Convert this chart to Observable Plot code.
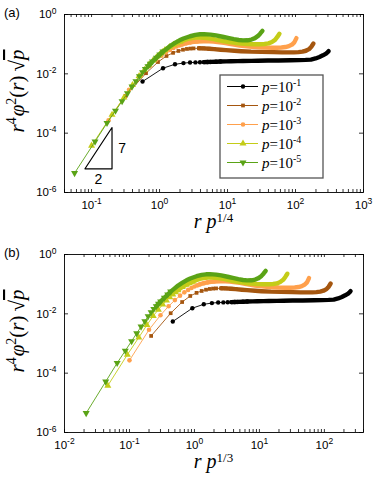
<!DOCTYPE html>
<html><head><meta charset="utf-8">
<script src="https://cdn.jsdelivr.net/npm/d3@7"></script>
<script src="https://cdn.jsdelivr.net/npm/@observablehq/plot@0.6"></script>
<style>
body{margin:0;background:#fff;}
#chart{width:374px;height:480px;}
#chart svg{display:block;}
</style></head><body><div id="chart"></div>
<script>
// ---- data ----
const pValues = [1e-1, 1e-2, 1e-3, 1e-4, 1e-5];
const pExponents = ["-1", "-2", "-3", "-4", "-5"];
const colors = ["#000000", "#a5560f", "#ffa04c", "#c4cc18", "#5aa316"];

const r0 = [1,2,3,4,5,6,7,8,9,10,12,14,17,20,25,30,40,50,70,100,150,200,250,300,350,400,450,500,530,545];
const y0 = [0.0055,0.0155,0.021,0.023,0.024,0.0243,0.0246,0.0248,0.025,0.0252,0.0256,0.026,0.0262,0.0265,0.0268,0.027,0.0273,0.0276,0.028,0.0283,0.0287,0.029,0.0295,0.0302,0.033,0.037,0.042,0.048,0.054,0.058];

const r1 = [1,2,3,4,5,6,7,8,9,10,12,14,17,20,25,30,40,50,70,100,150,200,250,300,350,400,450,500,540,580];
const y1 = [0.0018,0.0105,0.025,0.04,0.051,0.059,0.065,0.069,0.071,0.072,0.0725,0.072,0.07,0.068,0.065,0.063,0.06,0.058,0.056,0.055,0.054,0.053,0.053,0.053,0.054,0.056,0.06,0.068,0.082,0.105];

const r2 = [1,2,3,4,5,6,7,8,9,10,11,12,14,16,18,20,25,30,35,40,50,60,70,85,100,130,160,200,250,300,350,400,450,500,540,580];
const y2 = [0.00027,0.0029,0.009,0.018,0.029,0.041,0.053,0.064,0.074,0.083,0.091,0.098,0.108,0.115,0.12,0.123,0.126,0.125,0.122,0.118,0.11,0.102,0.096,0.09,0.086,0.081,0.079,0.077,0.076,0.076,0.077,0.08,0.086,0.097,0.115,0.16];

const r3 = [1,2,3,4,5,6,7,8,9,10,11,12,14,16,18,20,23,26,30,35,40,50,60,70,85,100,130,160,200,250,300,350,400,450,500,540,580];
const y3 = [0.000038,0.00042,0.0016,0.0042,0.0085,0.0138,0.0205,0.028,0.036,0.045,0.054,0.063,0.08,0.095,0.108,0.12,0.137,0.15,0.16,0.166,0.167,0.16,0.15,0.14,0.128,0.12,0.11,0.105,0.101,0.099,0.099,0.101,0.106,0.118,0.14,0.175,0.225];

const r4 = [1,2,3,4,5,6,7,8,9,10,11,12,13,14,16,18,20,23,26,30,35,40,50,60,70,80,100,120,150,180,220,260,300,350,400,450,500,540,580];
const y4 = [4.5e-6,5.2e-5,2.2e-4,5.7e-4,1.2e-3,2.2e-3,3.7e-3,5.6e-3,8.3e-3,0.0113,0.0145,0.018,0.022,0.026,0.035,0.045,0.056,0.072,0.09,0.11,0.135,0.155,0.185,0.205,0.215,0.218,0.21,0.197,0.178,0.162,0.147,0.138,0.134,0.135,0.143,0.16,0.19,0.23,0.28];

const xTickLabelsA = [1e-1, 1e0, 1e1, 1e2, 1e3];
const xTickLabelsB = [1e-2, 1e-1, 1e0, 1e1, 1e2];
const yTickLabels = [1e-6, 1e-4, 1e-2, 1e0];
const slopeX = [0.08, 0.2, 0.2, 0.08];
const slopeY = [6.3e-6, 6.3e-6, 1.55e-4, 6.3e-6];

// ---- build ----
const seriesR = [r0, r1, r2, r3, r4];
const seriesY = [y0, y1, y2, y3, y4];
const rows = seriesR.map((rs, i) => rs.map((r, j) => ({
  s: i, r, y: seriesY[i][j],
  xa: r * Math.pow(pValues[i], 1 / 4),
  xb: r * Math.pow(pValues[i], 1 / 3)
})));

const triDown = {draw(ctx, size) {
  const y = -Math.sqrt(size / (Math.sqrt(3) * 3));
  ctx.moveTo(0, -y * 2); ctx.lineTo(-Math.sqrt(3) * y, y); ctx.lineTo(Math.sqrt(3) * y, y); ctx.closePath();
}};
const plotSymbols = ["circle", "square", "circle", "triangle", triDown];
const d3Symbols = [d3.symbolCircle, d3.symbolSquare, d3.symbolCircle, d3.symbolTriangle, triDown];
const markerR = [2.2, 2.1, 2.3, 2.6, 2.6];
const bandFrom = [8, 12, 12, 12, 12];
const dotsTo = [14, 20, 20, 20, 20];

const W = 374, H = 240;
const M = {top: 14, right: 11, bottom: 48, left: 64};
const innerW = W - M.left - M.right;
const innerH = H - M.top - M.bottom;

function allTicks(domain) {
  const out = [];
  const k0 = Math.floor(Math.log10(domain[0])), k1 = Math.ceil(Math.log10(domain[1]));
  for (let k = k0; k <= k1; k++) for (let m = 1; m <= 9; m++) {
    const v = m * Math.pow(10, k);
    if (v >= domain[0] * 0.999 && v <= domain[1] * 1.001) out.push(v);
  }
  return out;
}

function supText(sel, base, sup, supSize, shift) {
  sel.text(null);
  sel.append("tspan").text(base);
  sel.append("tspan").attr("font-size", supSize).attr("dy", shift).text(sup);
}

function panel(xKey, xDomain, xMajor, xLabelSup, tag, withLegend) {
  const marks = [];
  rows.forEach((data, i) => {
    marks.push(Plot.line(data, {x: xKey, y: "y", stroke: colors[i], strokeWidth: 0.9}));
    marks.push(Plot.line(data.filter(d => d.r >= bandFrom[i]), {x: xKey, y: "y", stroke: colors[i], strokeWidth: 4.4, strokeLinejoin: "round", strokeLinecap: "round"}));
    marks.push(Plot.dot(data.filter(d => d.r <= dotsTo[i]), {x: xKey, y: "y", fill: colors[i], stroke: "none", r: markerR[i], symbol: plotSymbols[i]}));
  });
  if (withLegend) {
    marks.push(Plot.line(slopeX.map((x, i) => ({x, y: slopeY[i]})), {x: "x", y: "y", stroke: "#000", strokeWidth: 1.2}));
    marks.push(Plot.text([{x: 0.2, y: Math.sqrt(slopeY[0] * slopeY[2]), t: "7"}], {x: "x", y: "y", text: "t", dx: 10, fontSize: 14, fontFamily: "Liberation Sans", textAnchor: "middle"}));
    marks.push(Plot.text([{x: Math.sqrt(slopeX[0] * slopeX[1]), y: slopeY[0], t: "2"}], {x: "x", y: "y", text: "t", dy: 11, fontSize: 14, fontFamily: "Liberation Sans", textAnchor: "middle"}));
  }
  const ticksX = allTicks(xDomain);
  marks.push(Plot.frame({stroke: "#000", strokeWidth: 0.9}));
  marks.push(Plot.tickX(ticksX, {x: d => d, stroke: "#000", strokeWidth: 0.8, insetTop: innerH - 3}));
  marks.push(Plot.tickX(ticksX, {x: d => d, stroke: "#000", strokeWidth: 0.8, insetBottom: innerH - 3}));
  marks.push(Plot.tickY(yTickLabels, {y: d => d, stroke: "#000", strokeWidth: 0.8, insetRight: innerW - 4}));
  marks.push(Plot.tickY(yTickLabels, {y: d => d, stroke: "#000", strokeWidth: 0.8, insetLeft: innerW - 4}));
  marks.push(Plot.axisX({ticks: xMajor, tickSize: 0, tickPadding: 8, label: null, fontSize: 11.5, tickFormat: d => "10^" + Math.round(Math.log10(d))}));
  marks.push(Plot.axisY({ticks: yTickLabels, tickSize: 0, tickPadding: 8, label: null, fontSize: 11.5, tickFormat: d => "10^" + Math.round(Math.log10(d))}));

  const svg = Plot.plot({
    width: W, height: H,
    marginTop: M.top, marginRight: M.right, marginBottom: M.bottom, marginLeft: M.left,
    x: {type: "log", domain: xDomain, label: null},
    y: {type: "log", domain: [1e-6, 1], label: null},
    style: {background: "#fff", fontFamily: "Liberation Sans, Arial, sans-serif", fontSize: "11.5px", color: "#000", overflow: "visible"},
    marks
  });
  const s = d3.select(svg);
  s.selectAll('g[aria-label="x-axis tick label"] text, g[aria-label="y-axis tick label"] text').each(function() {
    const t = d3.select(this);
    const parts = t.text().split("^");
    supText(t, parts[0], parts[1], "8.5px", "-0.55em");
  });
  s.selectAll('g[aria-label="x-axis tick label"] text, g[aria-label="y-axis tick label"] text').attr("fill", "#000");

  // panel tag
  s.append("text").attr("x", 4).attr("y", 17).attr("text-anchor", "start").attr("font-family", "Liberation Sans, Arial").attr("font-size", 13).text(tag);

  // x label
  const xl = s.append("text").attr("x", M.left + innerW / 2).attr("y", 228).attr("text-anchor", "middle")
    .attr("font-family", "Liberation Serif, serif").attr("font-size", 20);
  xl.append("tspan").attr("font-style", "italic").text("r");
  xl.append("tspan").attr("font-style", "italic").attr("dx", 5).text("p");
  xl.append("tspan").attr("font-size", 13).attr("dy", -6).text(xLabelSup);

  // y label
  const yl = s.append("text").attr("transform", `translate(24,${M.top + innerH / 2 - 12}) rotate(-90)`).attr("text-anchor", "middle")
    .attr("font-family", "Liberation Serif, serif").attr("font-size", 21);
  yl.append("tspan").attr("font-style", "italic").text("r");
  yl.append("tspan").attr("font-size", 14).attr("dy", -8).text("4");
  yl.append("tspan").attr("font-style", "italic").attr("dy", 8).attr("dx", 1).text("φ");
  yl.append("tspan").attr("font-size", 14).attr("dy", -8).text("2");
  yl.append("tspan").attr("dy", 8).text("(");
  yl.append("tspan").attr("font-style", "italic").text("r");
  yl.append("tspan").text(")");
  yl.append("tspan").attr("dx", 4).text("√");
  yl.append("tspan").attr("font-style", "italic").attr("text-decoration", "overline").text("p");

  if (withLegend) {
    const g = s.append("g");
    g.append("rect").attr("x", 220).attr("y", 75).attr("width", 103).attr("height", 103)
      .attr("fill", "#fff").attr("stroke", "#555").attr("stroke-width", 1.3);
    pValues.forEach((p, i) => {
      const cy = 86.5 + i * 19;
      g.append("line").attr("x1", 227).attr("x2", 258).attr("y1", cy).attr("y2", cy).attr("stroke", colors[i]).attr("stroke-width", 1);
      g.append("path").attr("transform", `translate(243,${cy})`).attr("fill", colors[i])
        .attr("d", d3.symbol(d3Symbols[i], Math.PI * markerR[i] * markerR[i])());
      const t = g.append("text").attr("x", 262).attr("y", cy + 5).attr("text-anchor", "start").attr("font-family", "Liberation Serif, serif").attr("font-size", 15);
      t.append("tspan").attr("font-style", "italic").text("p");
      t.append("tspan").text("=10");
      t.append("tspan").attr("font-size", 10).attr("dy", -6).text(pExponents[i]);
    });
  }
  return svg;
}

const chart = document.getElementById("chart");
chart.appendChild(panel("xa", [0.04, 1000], xTickLabelsA, "1/4", "(a)", true));
chart.appendChild(panel("xb", [0.01, 400], xTickLabelsB, "1/3", "(b)", false));
</script></body></html>
